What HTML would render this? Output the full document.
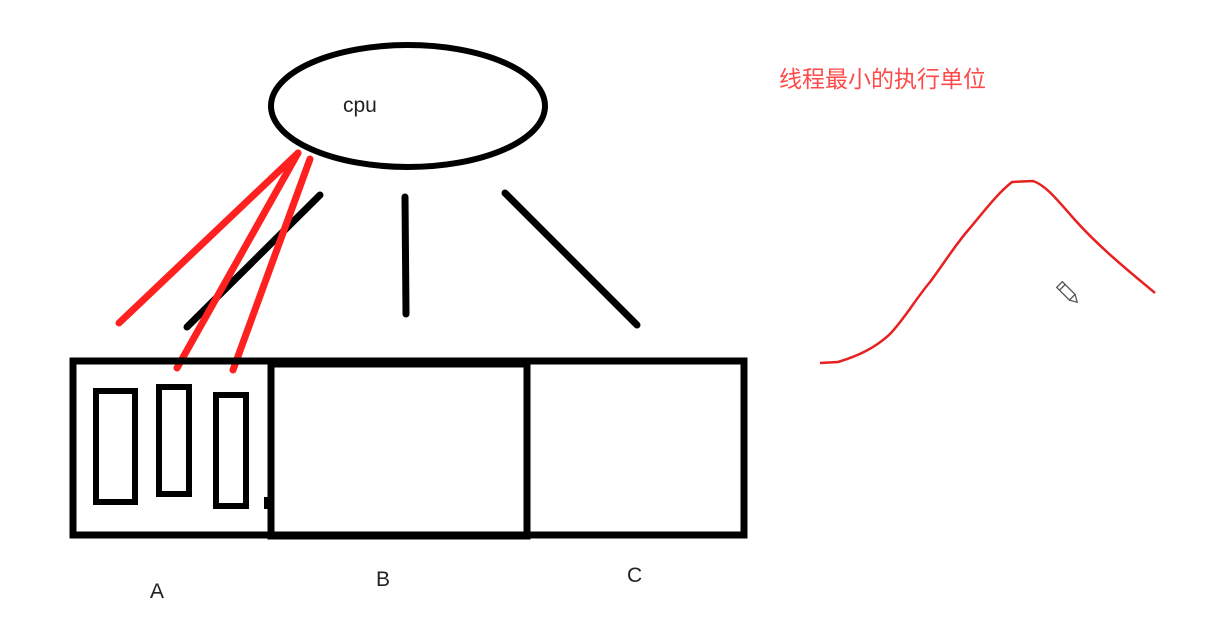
<!DOCTYPE html>
<html><head><meta charset="utf-8"><style>
html,body{margin:0;padding:0;background:#fff;width:1218px;height:638px;overflow:hidden}
svg{display:block}
text{font-family:"Liberation Sans","Noto Sans CJK SC",sans-serif}
</style></head><body>
<svg width="1218" height="638" viewBox="0 0 1218 638">
<ellipse cx="408" cy="106" rx="137" ry="61" fill="none" stroke="#000" stroke-width="6"/>
<text x="343" y="112" font-size="21" fill="#222">cpu</text>
<g stroke="#000" stroke-width="7" stroke-linecap="round" fill="none">
<line x1="320" y1="195" x2="187" y2="327"/>
<line x1="405" y1="197" x2="406" y2="314"/>
<line x1="505" y1="193" x2="637" y2="325"/>
</g>
<g stroke="#ff2020" stroke-width="7" stroke-linecap="round" fill="none">
<line x1="298" y1="153" x2="119" y2="323"/>
<line x1="298" y1="153" x2="177" y2="368"/>
<line x1="310" y1="159" x2="233" y2="370"/>
</g>
<g fill="none" stroke="#000">
<rect x="73" y="361" width="671" height="174" stroke-width="7"/>
<rect x="271" y="364" width="256" height="172" stroke-width="7"/>
<rect x="96" y="391" width="39" height="111" stroke-width="6"/>
<rect x="159" y="387" width="30" height="107" stroke-width="6"/>
<rect x="216" y="395" width="30" height="111" stroke-width="6"/>
</g>
<rect x="264" y="497" width="5" height="12" fill="#000"/>
<text x="150" y="598" font-size="21" fill="#222">A</text>
<text x="376" y="586" font-size="21" fill="#222">B</text>
<text x="627" y="582" font-size="21" fill="#222">C</text>
<text x="779" y="87" font-size="23" fill="#ff4a4a">线程最小的执行单位</text>
<path d="M820,363 L838,362 C858,356 875,348 890,334 C905,318 915,300 930,282 C945,262 955,245 970,228 C985,210 998,193 1012,182 L1033,181 C1045,185 1055,197 1075,220 C1100,248 1130,272 1155,293" fill="none" stroke="#e82020" stroke-width="2.5"/>
<g transform="translate(1068,293) rotate(-45)" fill="none" stroke="#555" stroke-width="1.3">
<rect x="-4" y="-12" width="8" height="18"/>
<path d="M-4,6 L0,13 L4,6"/>
<line x1="-4" y1="-8" x2="4" y2="-8"/>
</g>
</svg>
</body></html>
